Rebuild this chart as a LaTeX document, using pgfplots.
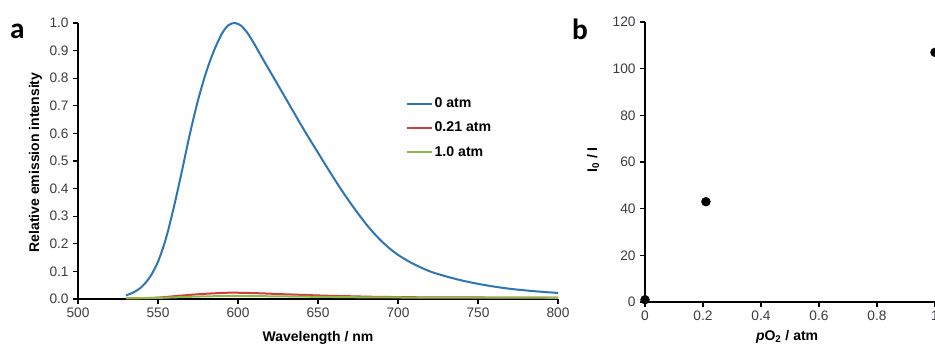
\documentclass[border=0pt]{standalone}
\usepackage{fontspec}
\setmainfont{Liberation Sans}
\newfontfamily\panelfont{Carlito}
\usepackage{pgfplots}
\pgfplotsset{compat=1.18}
\definecolor{cblue}{RGB}{46,117,182}
\definecolor{cred}{RGB}{210,62,60}
\definecolor{cgreen}{RGB}{140,186,72}
\definecolor{ticktext}{RGB}{60,60,68}

\pgfplotsset{
  myaxis/.style={
    scale only axis,
    axis lines=left,
    axis line style={-, line width=1.1pt, black},
    tick align=outside,
    major tick length=3.5pt,
    tick style={line width=0.9pt, black},
    /pgf/number format/assume math mode=true,
    tick label style={font=\fontsize{10.3}{12}\selectfont, text=ticktext},
    label style={font=\fontsize{10.5}{12}\selectfont\bfseries},
    clip=false,
  }
}

\begin{document}
\begin{tikzpicture}
\begin{axis}[myaxis,
  at={(58.5pt,36pt)}, anchor=origin,
  width=360pt, height=207pt,
  xmin=500, xmax=800, ymin=0, ymax=1,
  xtick={500,550,...,800},
  ytick={0,0.1,...,1.0},
  yticklabel style={/pgf/number format/.cd, fixed, fixed zerofill, precision=1},
  xlabel={Wavelength / nm},
  ylabel={Relative emission intensity},
  xlabel style={at={(axis description cs:0.5,-0.1547)}, anchor=base},
  ylabel style={at={(axis description cs:-0.0885,0.4946)}, anchor=center},
  legend style={at={(axis description cs:0.675,0.745)}, anchor=north west,
    draw=none, fill=none, font=\fontsize{10.6}{12}\selectfont\bfseries,
    row sep=7.4pt, nodes={inner sep=1pt}},
  legend cell align=left,
  legend image code/.code={\draw[#1, line width=1.5pt] (0pt,0pt) -- (18.75pt,0pt);},
]
\addplot[cblue, line width=1.5pt, smooth] coordinates {
(530,0.013) (535,0.025) (540,0.045) (545,0.08) (550,0.135) (555,0.22) (560,0.335)
(565,0.465) (570,0.60) (575,0.72) (580,0.82) (585,0.90) (590,0.962) (594,0.992)
(598,1.0) (602,0.99) (606,0.963) (610,0.926) (615,0.875) (620,0.825) (625,0.775)
(630,0.725) (635,0.675) (640,0.625) (645,0.577) (650,0.53) (655,0.483) (660,0.437)
(665,0.392) (670,0.35) (675,0.31) (680,0.272) (685,0.238) (690,0.208) (695,0.182)
(700,0.16) (705,0.142) (710,0.126) (720,0.10) (730,0.082) (740,0.067) (750,0.055)
(760,0.045) (770,0.037) (780,0.031) (790,0.026) (800,0.022)
};
\addlegendentry{0 atm}
\addplot[cred, line width=1.5pt, smooth] coordinates {
(530,0.002) (540,0.003) (550,0.005) (560,0.010) (570,0.015) (580,0.019) (590,0.022)
(597,0.023) (605,0.022) (615,0.0205) (625,0.018) (640,0.015) (655,0.012) (670,0.010)
(685,0.008) (700,0.007) (720,0.006) (750,0.0055) (800,0.005)
};
\addlegendentry{0.21 atm}
\addplot[cgreen, line width=1.5pt, smooth] coordinates {
(530,0.003) (540,0.003) (550,0.004) (560,0.006) (570,0.008) (580,0.0095) (590,0.0105)
(597,0.011) (610,0.0105) (625,0.0095) (640,0.0085) (655,0.0075) (670,0.0065)
(685,0.006) (700,0.0055) (720,0.005) (750,0.0048) (800,0.0045)
};
\addlegendentry{1.0 atm}
\end{axis}

\begin{axis}[myaxis,
  at={(483.75pt,33.75pt)}, anchor=origin,
  width=217.5pt, height=210pt,
  xmin=0, xmax=1, ymin=0, ymax=120,
  xtick={0,0.2,0.4,0.6,0.8,1},
  xticklabels={0,0.2,0.4,0.6,0.8,1},
  ytick={0,20,...,120},
  xlabel={\textit{p}O\textsubscript{2} / atm},
  ylabel={I\textsubscript{0} / I},
  xlabel style={at={(axis description cs:0.49,-0.138)}, anchor=base},
  ylabel style={at={(axis description cs:-0.179,0.507)}, anchor=center},
]
\addplot[only marks, mark=*, mark size=3.3pt, black] coordinates {
(0,1) (0.21,43) (1.0,107)
};
\end{axis}

\node[anchor=base, font=\panelfont\fontsize{22}{24}\selectfont\bfseries] at (13.1pt,231pt) {a};
\node[anchor=base, font=\panelfont\fontsize{22}{24}\selectfont\bfseries] at (435pt,230.25pt) {b};

\pgfresetboundingbox
\path[use as bounding box] (0,0) rectangle (701.25pt,260.25pt);
\end{tikzpicture}
\end{document}
